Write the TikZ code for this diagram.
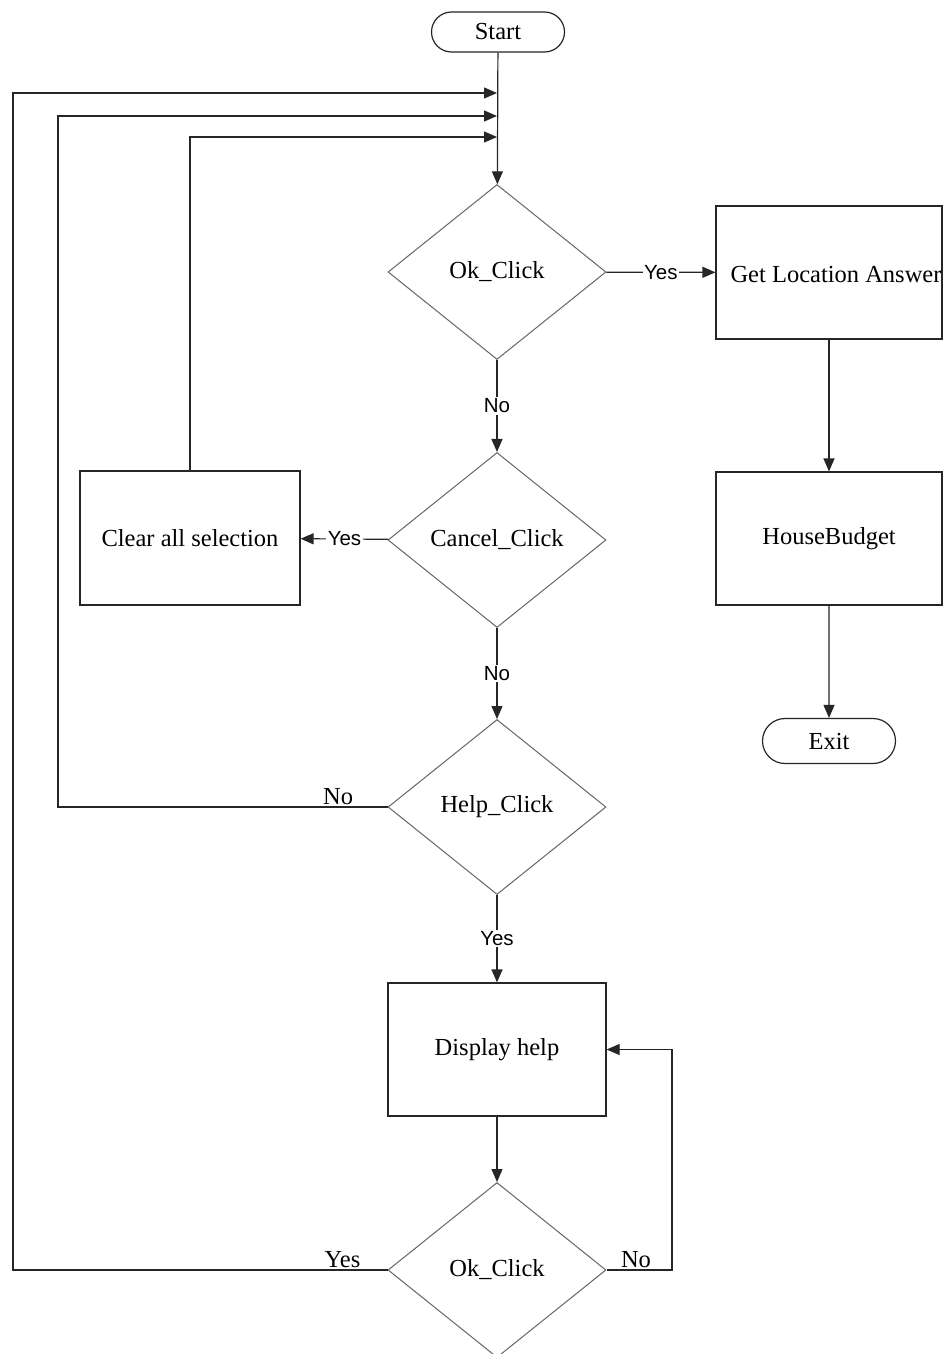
\documentclass[tikz,border=0pt]{standalone}
\usepackage{fontspec}
\setmainfont{Liberation Serif}
\newfontfamily\labelfont{Liberation Sans}
\usetikzlibrary{shapes.geometric,shapes.misc,arrows.meta}

\begin{document}
\begin{tikzpicture}[x=1pt,y=-1pt,
  every node/.style={font=\fontsize{24.5}{28}\selectfont},
  decision/.style={draw=black!60, line width=1pt, diamond, aspect=1.25,
    minimum width=218pt, minimum height=175pt, inner sep=0pt},
  process/.style={draw=black!85, line width=1.2pt, rectangle,
    minimum height=133pt, inner sep=0pt},
  terminal/.style={draw=black!85, line width=1.2pt, rounded rectangle,
    minimum width=133pt, inner sep=0pt},
  flow/.style={draw=black!85, line width=1.2pt, -{Triangle[length=13pt,width=11pt]}},
  tag/.style={font=\labelfont\fontsize{20.5}{23}\selectfont, fill=white, inner sep=1.5pt},
  side/.style={font=\fontsize{24.5}{28}\selectfont, above, inner sep=2pt}]

\useasboundingbox (0,0) rectangle (944,1354);
\fill[white] (0,0) rectangle (944,1354);

% main column
\node[terminal, minimum height=40pt] (start) at (498,32) {Start};
\node[decision] (ok) at (497,272) {\raisebox{-3pt}{Ok\_Click}};
\node[decision] (cancel) at (497,540) {\raisebox{-2pt}{Cancel\_Click}};
\node[decision] (help) at (497,807) {Help\_Click};
\node[process, minimum width=218pt] (display) at (497,1049.5) {\raisebox{-4pt}{Display help}};
\node[decision] (ok2) at (497,1270) {\raisebox{-4pt}{Ok\_Click}};

% side boxes
\node[process, minimum width=226pt] (getloc) at (829,272.5) {};
\node at (836,275) {Get Location Answer};
\node[process, minimum width=226pt] (budget) at (829,538.5) {\raisebox{-4pt}{HouseBudget}};
\node[terminal, minimum height=45pt] (exit) at (829,741) {Exit};
\node[process, minimum width=220pt, minimum height=134pt] (clear) at (190,538) {\raisebox{-3pt}{Clear all selection}};

% merge points on the main line
\coordinate (m1) at (497,93);
\coordinate (m2) at (497,116);
\coordinate (m3) at (497,137);

% forward flow
\draw[flow] (start) -- (ok);
\draw[flow] (ok) -- node[tag] {Yes} (getloc);
\draw[flow] (getloc) -- (budget);
\draw[flow] (budget) -- (exit);
\draw[flow] (ok) -- node[tag] {No} (cancel);
\draw[flow] (cancel) -- node[tag] {Yes} (clear);
\draw[flow] (cancel) -- node[tag] {No} (help);
\draw[flow] (help) -- node[tag] {Yes} (display);
\draw[flow] (display) -- (ok2);

% loops back to the top
\draw[flow] (clear.north) |- (m3);
\draw[flow] (help.west) -- node[side, pos=0.15] {No} (58,807) |- (m2);
\draw[flow] (ok2.west) -- node[side, pos=0.12] {Yes} (13,1270) |- (m1);
\draw[flow] (ok2.east) -- node[side, pos=0.45] {No} (672,1270) |- (display.east);

\end{tikzpicture}
\end{document}
